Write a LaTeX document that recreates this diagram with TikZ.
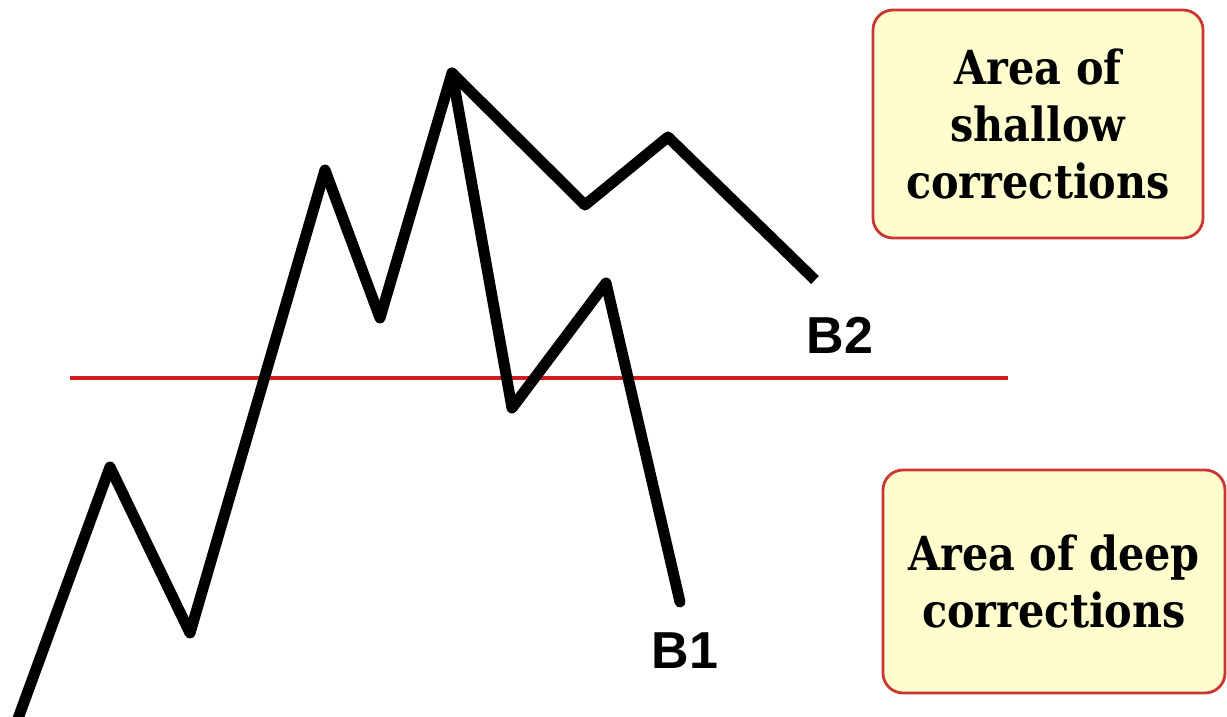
\documentclass[tikz,border=0pt]{standalone}
\usepackage{fontspec}
\newfontfamily\boxfont{DejaVu Serif}[FakeStretch=0.88]
\newfontfamily\labfont{Liberation Sans}
\definecolor{boxfill}{RGB}{255,253,205}
\definecolor{boxedge}{RGB}{200,55,50}
\definecolor{levelred}{RGB}{210,30,30}
\begin{document}
\begin{tikzpicture}[x=1pt,y=-1pt,
  price/.style={line width=11pt,line join=round,black},
  infobox/.style={draw=boxedge,line width=2.8pt,fill=boxfill,rounded corners=20pt,
    align=center,font=\boxfont\bfseries\fontsize{47}{57}\selectfont,inner sep=0pt},
  blabel/.style={font=\labfont\bfseries\fontsize{52}{60}\selectfont,inner sep=0pt}]
\useasboundingbox (0,0) rectangle (1227,717);
\clip (0,0) rectangle (1227,717);
\coordinate (p0) at (16,724);
\coordinate (p1) at (110,467);
\coordinate (p2) at (190,633);
\coordinate (p3) at (325,170);
\coordinate (p4) at (380,318);
\coordinate (top) at (452,73);
\coordinate (a1) at (585,205);
\coordinate (a2) at (668,137);
\coordinate (a3) at (815,280);
\coordinate (b1) at (512,408);
\coordinate (b2) at (606,283);
\coordinate (b3) at (680,602);
\coordinate (rl) at (70,378);
\coordinate (rr) at (1008,378);
\draw[levelred,line width=4pt] (rl) -- (rr);
\draw[price,line cap=butt] (p0) -- (p1) -- (p2) -- (p3) -- (p4) -- (top) -- (a1) -- (a2) -- (a3);
\draw[price,line cap=round] (top) -- (b1) -- (b2) -- (b3);
\node[blabel] (lb2) at (840,335) {B2};
\node[blabel] (lb1) at (685,651) {B1};
\node[infobox,minimum width=330pt,minimum height=228pt] (shallow) at (1038,124) {Area of\\shallow\\corrections};
\node[infobox,minimum width=342pt,minimum height=223pt] (deep) at (1054,581.5) {Area of deep\\corrections};
\end{tikzpicture}
\end{document}
